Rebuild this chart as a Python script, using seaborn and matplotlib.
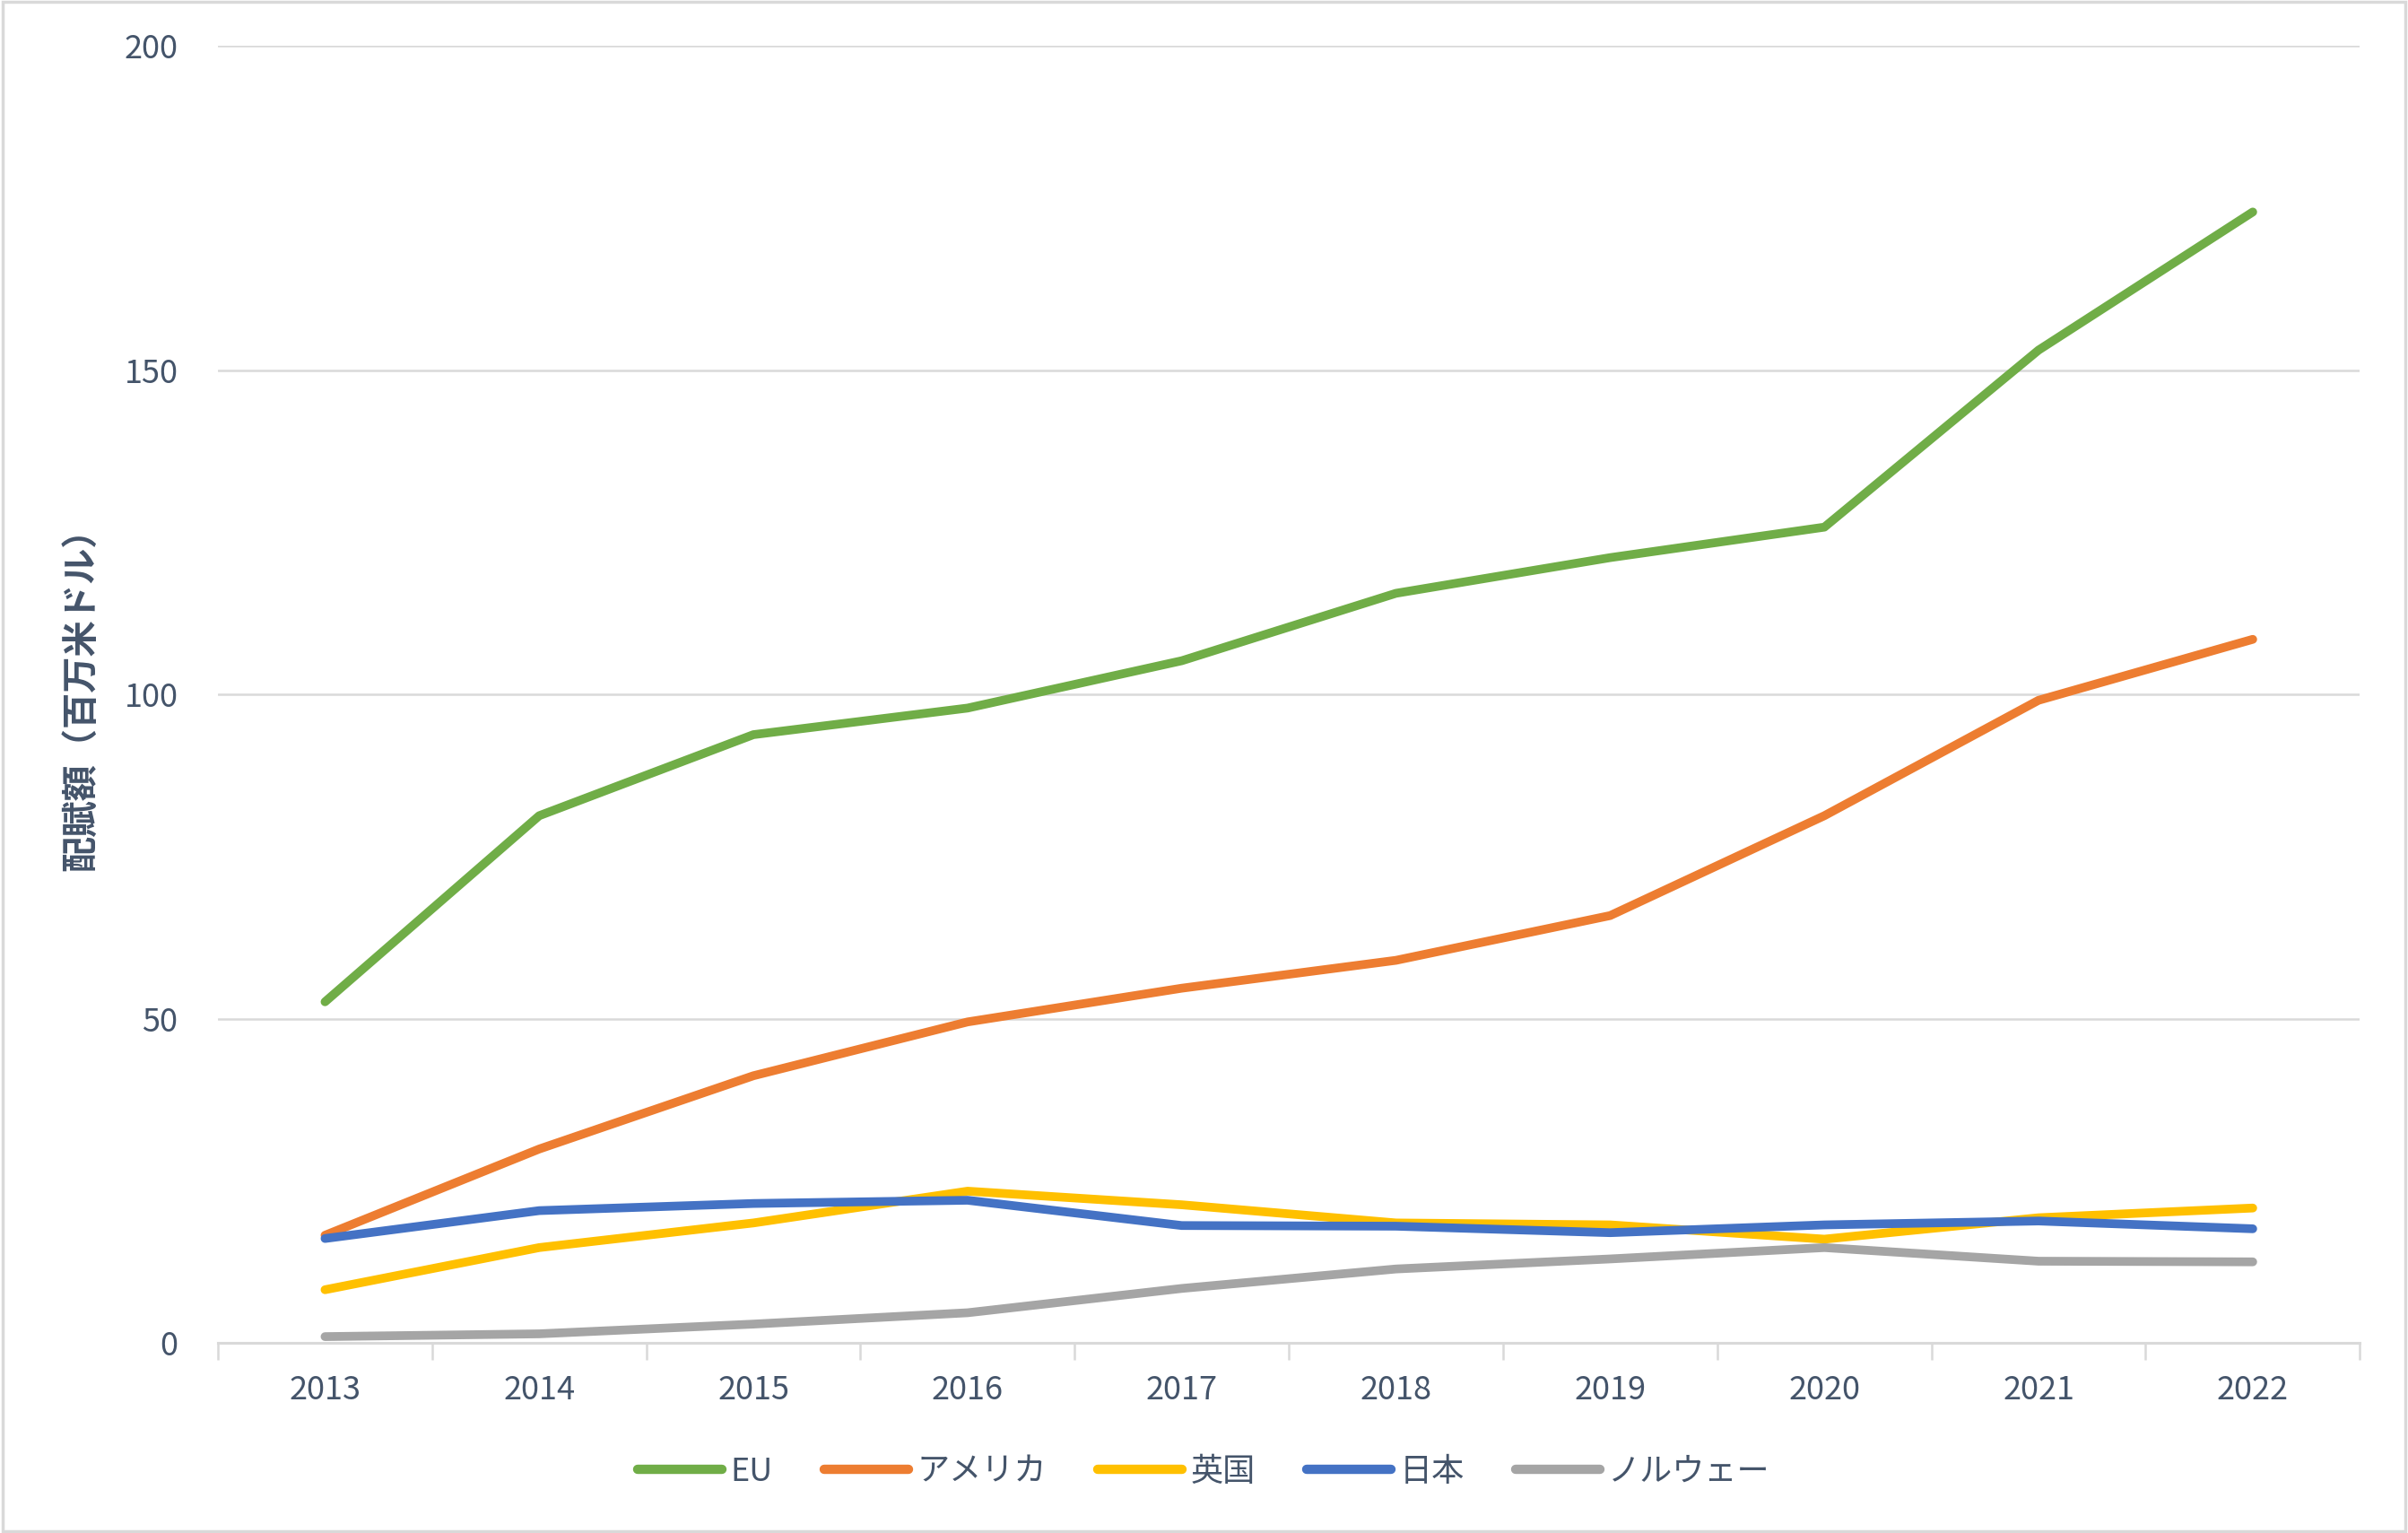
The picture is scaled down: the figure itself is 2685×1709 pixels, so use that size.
import pandas as pd
import seaborn as sns
import matplotlib.pyplot as plt
from matplotlib.patches import Rectangle

# --- Data ---
years = [2013, 2014, 2015, 2016, 2017, 2018, 2019, 2020, 2021, 2022]
eu = [52.6, 81.3, 93.8, 97.9, 105.2, 115.6, 121.1, 125.8, 153.1, 174.4]
usa = [16.6, 29.9, 41.2, 49.5, 54.7, 59.0, 65.9, 81.3, 99.1, 108.5]
uk = [8.2, 14.7, 18.5, 23.4, 21.3, 18.5, 18.2, 16.0, 19.3, 20.8]
japan = [16.1, 20.4, 21.5, 22.0, 18.1, 18.0, 17.0, 18.2, 18.8, 17.6]
norway = [0.97, 1.4, 2.9, 4.65, 8.4, 11.4, 12.95, 14.7, 12.6, 12.5]

series_names = ["EU", "アメリカ", "英国", "日本", "ノルウェー"]
series_values = [eu, usa, uk, japan, norway]
colors = ["#70AD47", "#ED7D31", "#FFC000", "#4472C4", "#A5A5A5"]

ylabel = "配賦額（百万米ドル）"
text_color = "#44546A"
grid_color = "#D9D9D9"

# --- Long-form table, categories centred in their slots ---
rows = []
for name, vals in zip(series_names, series_values):
    for i, (yr, v) in enumerate(zip(years, vals)):
        rows.append({"pos": i + 0.5, "year": yr, "series": name, "value": v})
df = pd.DataFrame(rows)

sns.set_theme(style="white")
plt.rcParams['font.family'] = ['Noto Sans CJK JP', 'DejaVu Sans']

fig = plt.figure(figsize=(26.85, 17.09), dpi=100)
ax = fig.add_axes([0.0905, 0.124, 0.8895, 0.846])

sns.lineplot(data=df, x="pos", y="value", hue="series", hue_order=series_names,
             palette=colors, linewidth=7, ax=ax, legend=True,
             solid_capstyle="round", solid_joinstyle="round")

ax.set_xlim(0, len(years))
ax.set_ylim(0, 200)
ax.set_yticks([0, 50, 100, 150, 200])
ax.grid(axis="y", color=grid_color, linewidth=1.8)
ax.set_axisbelow(True)

# tick marks at category boundaries, labels at category centres
ax.set_xticks(range(len(years) + 1))
ax.set_xticklabels([])
ax.set_xticks([i + 0.5 for i in range(len(years))], minor=True)
ax.set_xticklabels([str(y) for y in years], minor=True)
ax.tick_params(axis="x", which="major", length=14, width=1.8, color=grid_color, bottom=True)
ax.tick_params(axis="x", which="minor", length=0, pad=25, labelsize=26, labelcolor=text_color)
ax.tick_params(axis="y", length=0, pad=32, labelsize=26, labelcolor=text_color)

for s in ["left", "top", "right"]:
    ax.spines[s].set_visible(False)
ax.spines["bottom"].set_color(grid_color)
ax.spines["bottom"].set_linewidth(2.2)

ax.set_xlabel("")
ax.set_ylabel(ylabel, fontsize=29, fontweight="bold", color=text_color)
ax.yaxis.set_label_coords(-0.055, 0.503)

# legend at the bottom
handles, labels = ax.get_legend_handles_labels()
ax.legend_.remove()
leg = fig.legend(handles, labels, loc="center", bbox_to_anchor=(0.5, 0.04),
                 ncol=5, frameon=False, fontsize=26, handlelength=2.6,
                 handletextpad=0.25, columnspacing=1.6, labelcolor=text_color)
for h in leg.get_lines():
    h.set_linewidth(7.5)
    h.set_solid_capstyle("round")

# light border around the whole chart
fig.patches.append(Rectangle((0.001, 0.001), 0.998, 0.998, transform=fig.transFigure,
                             fill=False, edgecolor=grid_color, linewidth=2.5))

fig.savefig("out.png", dpi=100)
